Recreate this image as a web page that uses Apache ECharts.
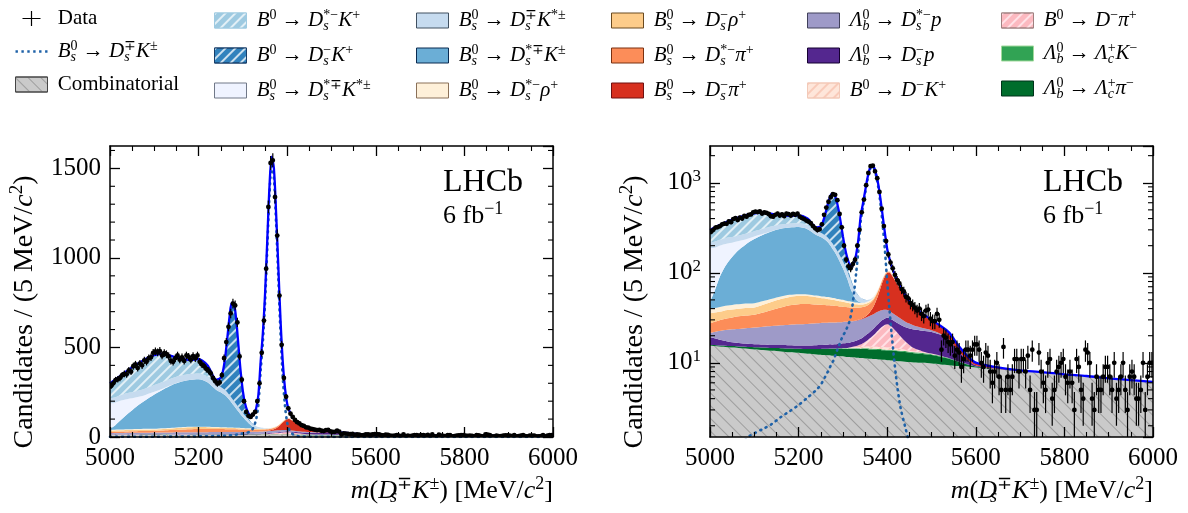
<!DOCTYPE html>
<html><head><meta charset="utf-8">
<script src="https://cdn.jsdelivr.net/npm/echarts@6.0.0/dist/echarts.min.js"></script>
<style>html,body{margin:0;padding:0;background:#fff}#c{width:1188px;height:513px}</style>
</head><body><div id="c"></div>
<script>
const SERIF = '"Liberation Serif", "DejaVu Serif", serif';
const X_MIN = 5000, X_MAX = 6000;
const BIN_LO = 5000, BIN_W = 5;
const yMinorLin = [100,200,300,400,600,700,800,900,1100,1200,1300,1400,1600];
const yMinorLog = [2,3,4,5,6,7,8,9,20,30,40,50,60,70,80,90,200,300,400,500,600,700,800,900,2000];

// fit sampling points (MeV/c^2)
const fitX = [5000,5010,5020,5030,5040,5050,5060,5070,5080,5090,
5100,5120,5140,5160,5180,5200,5220,5240,5250,5255,
5260,5265,5270,5275,5280,5285,5290,5295,5300,5305,
5310,5315,5320,5325,5330,5335,5340,5345,5350,5355,
5360,5365,5370,5375,5380,5385,5390,5395,5400,5405,
5410,5420,5430,5440,5450,5460,5480,5500,5520,5540,
5560,5580,5600,5650,5700,5750,5800,5850,5900,5950,
6000];

const comb = [15.5,15.4,15.2,15.1,14.9,14.8,14.7,14.5,14.4,14.2,
14.1,13.9,13.6,13.4,13.1,12.9,12.6,12.4,12.3,12.2,
12.2,12.1,12.1,12.0,12.0,11.9,11.9,11.8,11.8,11.7,
11.6,11.6,11.5,11.5,11.4,11.4,11.3,11.3,11.2,11.2,
11.1,11.1,11.0,11.0,10.9,10.9,10.8,10.8,10.7,10.7,
10.6,10.5,10.4,10.3,10.2,10.1,10.0,9.8,9.6,9.4,
9.2,9.1,8.9,8.5,8.1,7.8,7.4,7.1,6.7,6.4,
6.1];
const lbLcpi = [0.3,0.35,0.4,0.45,0.5,0.55,0.6,0.65,0.7,0.75,
0.8,0.9,1.0,1.15,1.3,1.4,1.6,1.8,1.9,2.0,
2.05,2.1,2.2,2.25,2.3,2.35,2.4,2.5,2.55,2.6,
2.65,2.7,2.75,2.8,2.85,2.9,2.9,2.95,3.0,3.0,
3.0,3.0,3.0,3.0,3.0,3.0,3.0,3.0,3.0,3.0,
3.0,3.0,2.95,2.9,2.8,2.7,2.55,2.4,2.1,1.7,
1.1,0.55,0.2,0.05,0,0,0,0,0,0,
0];
const lbLcK = [0,0,0,0,0,0,0,0,0,0,
0,0,0,0,0,0,0.02,0.05,0.08,0.1,
0.1,0.12,0.13,0.15,0.16,0.17,0.18,0.19,0.2,0.2,
0.2,0.21,0.22,0.23,0.24,0.25,0.26,0.27,0.28,0.29,
0.3,0.3,0.3,0.3,0.3,0.3,0.3,0.3,0.3,0.3,
0.3,0.3,0.3,0.3,0.3,0.3,0.3,0.28,0.22,0.15,
0.1,0.05,0.02,0,0,0,0,0,0,0,
0];
const b0DK = [0,0,0,0,0,0,0,0,0,0,
0,0,0,0,0,0,0,0,0,0,
0,0,0,0,0,0,0,0,0.1,0.15,
0.2,0.25,0.3,0.35,0.4,0.45,0.5,0.55,0.6,0.65,
0.7,0.72,0.75,0.78,0.8,0.8,0.8,0.8,0.78,0.75,
0.72,0.65,0.55,0.45,0.35,0.28,0.15,0.08,0.03,0,
0,0,0,0,0,0,0,0,0,0,
0];
const b0Dpi = [0,0,0,0,0,0,0,0,0,0,
0,0,0,0,0,0,0,0,0,0,
0,0,0,0,0,0,0,0,0,0,
0,0,0.2,0.3,0.5,0.7,1.0,1.4,2.0,2.6,
3.5,4.4,5.5,6.7,8.0,9.3,10.5,11.5,12.0,11.6,
10.6,8.0,5.5,3.5,2.1,1.2,0.4,0.1,0.03,0,
0,0,0,0,0,0,0,0,0,0,
0];
const lbDsp = [3.4,3.0,2.6,2.2,1.9,1.6,1.4,1.3,1.25,1.2,
1.2,1.2,1.2,1.25,1.3,1.3,1.35,1.4,1.45,1.5,
1.5,1.55,1.6,1.6,1.65,1.7,1.7,1.75,1.8,1.85,
1.9,2.0,2.05,2.1,2.2,2.3,2.5,2.7,2.9,3.1,
3.3,3.5,3.7,3.95,4.2,4.4,4.6,4.7,4.8,4.9,
5.0,5.8,6.8,7.6,8.3,8.8,9.3,9.4,8.6,6.8,
3.2,1.2,0.3,0.05,0,0,0,0,0,0,
0];
const lbDsstp = [2.3,3.3,4.3,5.2,6.0,6.6,7.1,7.5,7.9,8.2,
8.5,9.2,9.8,10.3,10.8,11.2,11.5,11.8,11.9,12.0,
12.0,12.0,12.0,12.0,12.0,12.0,12.0,12.0,12.0,12.0,
12.0,12.0,11.9,11.9,11.8,11.8,11.7,11.6,11.5,11.4,
11.2,11.0,10.7,10.4,10.0,9.3,8.5,7.7,7.0,6.5,
6.0,5.2,4.5,3.8,3.2,2.6,1.6,0.9,0.4,0.15,
0.05,0,0,0,0,0,0,0,0,0,
0];
const bsDspi = [0,0,0,0,0,0,0,0,0,0,
0,0,0,0,0,0,0,0,0,0,
0,0,0,0,0,0,0,0,0,0,
0,0,0,0,0.1,0.2,0.3,0.6,1.0,1.8,
3.0,5.0,8.0,13,20,30,42,53,61,63,
58,45,35,26,19,15,10,6.5,4.5,3.2,
1.8,1.0,0.5,0.2,0.1,0.05,0.03,0.02,0.01,0.01,
0.01];
const bsDsstpi = [6,6.5,7,7.5,8,8.4,8.8,9.1,9.3,9.5,
9.6,11,13,15,17,18,18,17,16.5,16.2,
16,15.7,15.5,15.2,15,14.6,14.3,13.9,13.5,13.1,
12.8,12.4,12,11.6,11.3,10.9,10.6,10.2,9.8,9.4,
9,8.5,8,7.3,6.5,5.7,4.8,4.0,3.2,2.5,
2.0,1.3,0.9,0.6,0.4,0.3,0.2,0.1,0.05,0,
0,0,0,0,0,0,0,0,0,0,
0];
const bsDsrho = [8,7.7,7.5,7.3,7.2,7.1,7,7,7,7,
7,8,9,10,10.5,10.5,10,9,8.5,8.2,
8,7.7,7.4,7.1,6.8,6.5,6.2,6.0,5.7,5.4,
5.1,4.8,4.5,4.2,3.9,3.6,3.3,3.0,2.7,2.4,
2.1,1.8,1.6,1.4,1.2,1.0,0.8,0.65,0.5,0.4,
0.3,0.2,0.1,0.05,0,0,0,0,0,0,
0,0,0,0,0,0,0,0,0,0,
0];
const bsDsstrho = [4,4.3,4.5,4.7,4.8,4.9,5,5,4.9,4.8,
4.7,4.3,3.8,3.3,2.9,2.6,2.5,2.4,2.4,2.4,
2.4,2.4,2.4,2.4,2.4,2.4,2.4,2.4,2.4,2.35,
2.3,2.25,2.2,2.15,2.1,2.05,2.0,1.9,1.85,1.8,
1.7,1.6,1.5,1.4,1.3,1.15,1.05,0.9,0.8,0.7,
0.6,0.4,0.3,0.2,0.15,0.1,0.05,0,0,0,
0,0,0,0,0,0,0,0,0,0,
0];
const bsDsstK = [8.5,21.5,43.5,65.5,86.7,106,125.4,143,159.5,176.3,
192,216.5,238.6,253.6,261,264,247.5,206.2,195,187.4,
178.8,167.4,152.7,137.4,121.8,106.5,91,75.6,62,48.7,
36.3,23.8,14.4,7.9,3.3,1.5,0.7,0.3,0.15,0.1,
0.05,0.03,0.02,0.01,0,0,0,0,0,0,
0,0,0,0,0,0,0,0,0,0,
0,0,0,0,0,0,0,0,0,0,
0];
const bsDsstKst = [140,128,114,98,82,66,52,40,30,22,
15,6,2,0.5,0,0,0,0,0,0,
0,0,0,0,0,0,0,0,0,0,
0,0,0,0,0,0,0,0,0,0,
0,0,0,0,0,0,0,0,0,0,
0,0,0,0,0,0,0,0,0,0,
0,0,0,0,0,0,0,0,0,0,
0];
const bsDsKst = [30,31,32,33,34,34,35,35,36,36,
37,37,36,35,34,33,32,30,29,28.5,
28,27.5,27,26.5,26,25,24,23,22,20.5,
19,17,15,12.5,10,8,6,4.5,3,2,
1.5,1,0.5,0.3,0.1,0,0,0,0,0,
0,0,0,0,0,0,0,0,0,0,
0,0,0,0,0,0,0,0,0,0,
0];
const b0DsK = [0,0,0,0,0,0,0,0,0,0,
0,0,0,0,0.1,0.3,1.0,4,36,86,
175,300,432,523,533,456,328,198,101,45,
17,6,2.5,1.2,0.6,0.3,0.2,0.1,0.05,0.03,
0.02,0.01,0,0,0,0,0,0,0,0,
0,0,0,0,0,0,0,0,0,0,
0,0,0,0,0,0,0,0,0,0,
0];
const b0DsstK = [80,96,104,115,125,139,147,156,163,166,
166,155,122,92,75,76,58,19,10,6,
3.5,2,1,0.5,0.2,0,0,0,0,0,
0,0,0,0,0,0,0,0,0,0,
0,0,0,0,0,0,0,0,0,0,
0,0,0,0,0,0,0,0,0,0,
0,0,0,0,0,0,0,0,0,0,
0];
const bsDsK = [0.8,0.9,1.0,1.05,1.1,1.15,1.2,1.3,1.4,1.55,
1.65,1.85,2.1,2.5,2.9,3.4,4.1,5.0,5.7,6.3,
7.0,7.8,8.8,9.8,11,13,15,17.5,20,22,
25,29,38,60,100,180,367,528,750,1050,
1350,1513,1445,1190,884,574,333,175,80,40,
21,7,3.2,2.0,1.3,1.0,0.6,0.4,0.3,0.25,
0.2,0.15,0.12,0.08,0.05,0.04,0.03,0.02,0.02,0.02,
0.02];

// data: candidates per 5 MeV bin, 5000-6000
const counts = [285,300,318,322,330,345,352,350,372,365,
395,405,385,410,400,428,420,440,445,470,
478,472,480,455,468,462,450,425,420,440,
455,432,445,425,455,448,432,452,440,455,
420,405,395,380,370,355,330,312,298,305,
345,440,530,615,690,745,735,640,450,320,
200,140,118,112,125,140,200,300,470,650,
940,1285,1530,1545,1340,1125,790,515,330,225,
160,130,112,95,83,76,66,62,54,52,
46,44,41,38,40,35,33,
38,39,31,29,29,35,30,14,20,19,
17,16,17,12,14,13,9,11,14,14,
12,14,16,16,14,10,9,13,12,8,
6,8,10,7,5,15,5,7,5,7,
11,11,8,11,11,8,12,5,14,3,
3,13,8,6,5,10,11,4,5,8,
9,10,11,7,6,8,6,3,11,9,
5,4,14,13,10,4,3,7,5,5,
7,9,9,7,5,10,4,5,7,10,
5,3,7,8,7,4,4,5,10,3,
7,10,10];

// ---- styles (kept separate from data) ----
const COMPONENTS = [
 {key:'comb', values: comb, color:'#cacaca', border:'#444', hatch:{color:'rgba(120,120,120,0.55)', dir:1, dash:[1,8]}},
 {key:'lbLcpi', values: lbLcpi, color:'#006d2c', border:'#00331a'},
 {key:'lbLcK', values: lbLcK, color:'#31a354', border:'#a1d99b'},
 {key:'b0DK', values: b0DK, color:'#fee6da', border:'#f2c9b8', hatch:{color:'rgba(248,196,178,0.8)', dir:-1, dash:[1.5,5]}},
 {key:'b0Dpi', values: b0Dpi, color:'#fcb9c0', border:'#a08080', hatch:{color:'rgba(255,232,236,0.85)', dir:-1, dash:[1.5,5]}},
 {key:'lbDsp', values: lbDsp, color:'#54278f', border:'#150030'},
 {key:'lbDsstp', values: lbDsstp, color:'#9e9ac8', border:'#40405a'},
 {key:'bsDspi', values: bsDspi, color:'#d7301f', border:'#701010'},
 {key:'bsDsstpi', values: bsDsstpi, color:'#fc8d59', border:'#7a3010'},
 {key:'bsDsrho', values: bsDsrho, color:'#fdcc8a', border:'#6a4a20'},
 {key:'bsDsstrho', values: bsDsstrho, color:'#fef0d9', border:'#8a7058'},
 {key:'bsDsstK', values: bsDsstK, color:'#6baed6', border:'#0a2a50'},
 {key:'bsDsstKst', values: bsDsstKst, color:'#eff3ff', border:'#707888'},
 {key:'bsDsKst', values: bsDsKst, color:'#c6dbef', border:'#405060'},
 {key:'b0DsK', values: b0DsK, color:'#3182bd', border:'#173e6a', hatch:{color:'rgba(255,255,255,0.75)', dir:-1, dash:[1.5,5]}},
 {key:'b0DsstK', values: b0DsstK, color:'#9ecae1', border:'#9ecae1', hatch:{color:'rgba(255,255,255,0.7)', dir:-1, dash:[1.5,5]}}
];
const SIG_COLOR = '#1f62a8';

function hatchDecal(h) {
  return {symbol:'rect', symbolSize:1, color:h.color, dashArrayX:[1,0], dashArrayY:h.dash, rotation:h.dir*Math.PI/4};
}

const errs = [];
COMPONENTS.forEach(c => { if (c.values.length !== fitX.length) errs.push(c.key + ':' + c.values.length); });
if (bsDsK.length !== fitX.length) errs.push('sig:' + bsDsK.length);
if (counts.length !== 200) errs.push('counts:' + counts.length);

const dataRows = counts.map((n, i) => {
  const x = BIN_LO + BIN_W * (i + 0.5);
  const e = Math.sqrt(n);
  return [x, n, n - e, n + e];
});

function areaSeries(c, xi, yi, stack) {
  const decal = c.hatch ? hatchDecal(c.hatch) : null;
  const s = {
    type:'line', name:c.key, xAxisIndex:xi, yAxisIndex:yi, stack:stack,
    data: fitX.map((x, i) => [c.values[i], x]), encode:{x:1, y:0},
    symbol:'none', showSymbol:false, smooth:0.3, color:c.color,
    lineStyle:{width:0, color:c.color}, itemStyle:{color:c.color},
    areaStyle:{color:c.color, opacity:1, origin:'start'}, z:2, silent:true
  };
  if (decal) { s.itemStyle.decal = decal; s.lineStyle.decal = decal; }
  return s;
}

function dataSeries(xi, yi) {
  return {
    type:'custom', name:'data', xAxisIndex:xi, yAxisIndex:yi, data:dataRows,
    encode:{x:0, y:1}, clip:true, z:6, silent:true, itemStyle:{color:'#000'},
    renderItem(params, api) {
      const x = api.value(0), y = api.value(1), lo = api.value(2), hi = api.value(3);
      const c = api.coord([x, y]), a = api.coord([x, lo]), b = api.coord([x, hi]);
      const l = api.coord([x - BIN_W/2, y]), r = api.coord([x + BIN_W/2, y]);
      return {type:'group', children:[
        {type:'line', shape:{x1:c[0], y1:a[1], x2:c[0], y2:b[1]}, style:{stroke:'#000', lineWidth:1.2}},
        {type:'line', shape:{x1:l[0], y1:c[1], x2:r[0], y2:c[1]}, style:{stroke:'#000', lineWidth:1.2}},
        {type:'circle', shape:{cx:c[0], cy:c[1], r:2.4}, style:{fill:'#000'}}
      ]};
    }
  };
}

function minorTickSeries(values, xi, yi) {
  return {
    type:'custom', xAxisIndex:xi, yAxisIndex:yi, data: values.map(v => [X_MIN, v]),
    encode:{x:0, y:1}, z:12, silent:true,
    renderItem(params, api) {
      const v = api.value(1);
      const pL = api.coord([X_MIN, v]), pR = api.coord([X_MAX, v]);
      return {type:'group', children:[
        {type:'line', shape:{x1:pL[0], y1:pL[1], x2:pL[0]+5, y2:pL[1]}, style:{stroke:'#000', lineWidth:1.1}},
        {type:'line', shape:{x1:pR[0]-5, y1:pR[1], x2:pR[0], y2:pR[1]}, style:{stroke:'#000', lineWidth:1.1}}
      ]};
    }
  };
}

function plotSeries(xi, yi, stack) {
  const out = COMPONENTS.map(c => areaSeries(c, xi, yi, stack));
  out.push({type:'line', name:'fitTotal', xAxisIndex:xi, yAxisIndex:yi, stack:stack,
    data: fitX.map((x, i) => [bsDsK[i], x]), encode:{x:1, y:0}, symbol:'none', showSymbol:false, smooth:0.3,
    lineStyle:{color:'#0000ff', width:2.3}, color:'#0000ff', z:4, silent:true});
  out.push({type:'line', name:'sig', xAxisIndex:xi, yAxisIndex:yi,
    data: fitX.map((x, i) => [bsDsK[i], x]), encode:{x:1, y:0}, symbol:'none', showSymbol:false, smooth:0.3,
    lineStyle:{color:SIG_COLOR, width:2.6, type:[1,5], cap:'round'}, color:SIG_COLOR, z:3, silent:true});
  out.push(dataSeries(xi, yi));
  return out;
}

// ---- text helpers ----
function richSet(size) {
  const small = Math.round(size * 0.68), sl = Math.round(size * 0.62), lh = Math.round(size * 1.2);
  return {
    r: {fontFamily:SERIF, fontSize:size, lineHeight:lh, color:'#000'},
    i: {fontFamily:SERIF, fontSize:size, fontStyle:'italic', lineHeight:lh, color:'#000'},
    sp: {fontFamily:SERIF, fontSize:small, lineHeight:sl, verticalAlign:'top', color:'#000'},
    sb: {fontFamily:SERIF, fontSize:small, fontStyle:'italic', lineHeight:sl, verticalAlign:'bottom', color:'#000'},
    sbz: {fontFamily:SERIF, fontSize:small, fontStyle:'italic', lineHeight:sl, verticalAlign:'bottom', width:0.01, color:'#000'}
  };
}
const BS = '{i|B}{sbz|s}{sp|0}';
const B0 = '{i|B}{sp|0}';
const LB = '{i|Λ}{sbz|b}{sp|0}';
const TO = '{r| → }';
const DS = s => '{i|D}{sbz|s}{sp|' + s + '}';
const LABELS = {
  data: '{r|Data}',
  sig: BS + TO + DS('∓') + '{i|K}{sp|±}',
  comb: '{r|Combinatorial}',
  b0DsstK: B0 + TO + DS('*−') + '{i|K}{sp|+}',
  b0DsK: B0 + TO + DS('−') + '{i|K}{sp|+}',
  bsDsstKst: BS + TO + DS('*∓') + '{i|K}{sp|*±}',
  bsDsKst: BS + TO + DS('∓') + '{i|K}{sp|*±}',
  bsDsstK: BS + TO + DS('*∓') + '{i|K}{sp|±}',
  bsDsstrho: BS + TO + DS('*−') + '{i|ρ}{sp|+}',
  bsDsrho: BS + TO + DS('−') + '{i|ρ}{sp|+}',
  bsDsstpi: BS + TO + DS('*−') + '{i|π}{sp|+}',
  bsDspi: BS + TO + DS('−') + '{i|π}{sp|+}',
  lbDsstp: LB + TO + DS('*−') + '{i|p}',
  lbDsp: LB + TO + DS('−') + '{i|p}',
  b0DK: B0 + TO + '{i|D}{sp|−}{i|K}{sp|+}',
  b0Dpi: B0 + TO + '{i|D}{sp|−}{i|π}{sp|+}',
  lbLcK: LB + TO + '{i|Λ}{sbz|c}{sp|+}{i|K}{sp|−}',
  lbLcpi: LB + TO + '{i|Λ}{sbz|c}{sp|+}{i|π}{sp|−}'
};
const LEGEND_COLS = [
  {left:15, names:['data','sig','comb']},
  {left:214, names:['b0DsstK','b0DsK','bsDsstKst']},
  {left:416, names:['bsDsKst','bsDsstK','bsDsstrho']},
  {left:611, names:['bsDsrho','bsDsstpi','bsDspi']},
  {left:807, names:['lbDsstp','lbDsp','b0DK']},
  {left:1001, names:['b0Dpi','lbLcK','lbLcpi']}
];
const CROSS = 'path://M11.2,0h1.6v9.2h11.2v1.6h-11.2v9.2h-1.6v-9.2h-11.2v-1.6h11.2z';
const DOTS = 'path://M0,0h2.4v2.4h-2.4zM5.9,0h2.4v2.4h-2.4zM11.8,0h2.4v2.4h-2.4zM17.7,0h2.4v2.4h-2.4zM23.6,0h2.4v2.4h-2.4zM29.6,0h2.4v2.4h-2.4z';
function legendItem(n) {
  if (n === 'data') return {name:n, icon:CROSS, itemStyle:{color:'#000', borderWidth:0}};
  if (n === 'sig') return {name:n, icon:DOTS, itemStyle:{color:SIG_COLOR, borderWidth:0}};
  const c = COMPONENTS.find(k => k.key === n);
  return {name:n, icon:'rect', itemStyle:{color:c.color, borderColor:c.border, borderWidth:1}};
}
const LEG_RICH = richSet(21);
const legends = LEGEND_COLS.map(col => ({
  left: col.left, top: 8, orient:'vertical', padding:0, itemGap:10, itemWidth:32, itemHeight:15,
  selectedMode:false, data: col.names.map(legendItem),
  formatter: n => '{r| }' + LABELS[n],
  textStyle: {fontFamily:SERIF, fontSize:21, color:'#000', rich: LEG_RICH}
}));

// ---- axes ----
const AX_LINE = {show:true, onZero:false, lineStyle:{color:'#000', width:1.5}};
const TICK = {show:true, inside:true, length:10, lineStyle:{color:'#000', width:1.3}};
const plain = v => String(Math.round(v));
function xAx(gridIndex, position, labels) {
  return {type:'value', gridIndex, position, min:X_MIN, max:X_MAX, interval:200, z:10,
    axisLine:AX_LINE, axisTick:TICK,
    minorTick:{show:true, splitNumber:4, length:5, lineStyle:{color:'#000', width:1.1}},
    splitLine:{show:false}, minorSplitLine:{show:false},
    axisLabel:{show:labels, margin:9, fontFamily:SERIF, fontSize:25, color:'#000', formatter:plain}};
}
function yLin(position, labels) {
  return {type:'value', gridIndex:0, position, min:0, max:1625, interval:500, z:10,
    axisLine:AX_LINE, axisTick:TICK, splitLine:{show:false},
    axisLabel:{show:labels, showMaxLabel:false, margin:9, fontFamily:SERIF, fontSize:25, color:'#000', formatter:plain}};
}
const LOG_RICH = {
  b:{fontFamily:SERIF, fontSize:25, lineHeight:30, color:'#000'},
  s:{fontFamily:SERIF, fontSize:17, lineHeight:16, verticalAlign:'top', color:'#000'}
};
function yLog(position, labels) {
  return {type:'log', logBase:10, gridIndex:1, position, min:1.5, max:2560, z:10,
    axisLine:AX_LINE, axisTick:TICK, splitLine:{show:false}, minorTick:{show:false},
    axisLabel:{show:labels, showMinLabel:false, showMaxLabel:false, margin:9, color:'#000',
      formatter: v => '{b|10}{s|' + Math.round(Math.log10(v)) + '}', rich:LOG_RICH}};
}

// ---- graphic texts ----
function gtext(x, y, text, size, align, vAlign, rotation) {
  return {type:'text', x, y, rotation: rotation || 0, silent:true, z:20,
    style:{text, rich:richSet(size), fontFamily:SERIF, fontSize:size, fill:'#000',
      align, verticalAlign:vAlign, textAlign:align, textVerticalAlign:vAlign}};
}
const XTITLE = '{i|m}{r|(}{i|D}{sbz|s}{sp|∓}{i|K}{sp|±}{r|) [MeV/}{i|c}{sp|2}{r|]}';
const YTITLE = '{r|Candidates / (5 MeV/}{i|c}{sp|2}{r|)}';
const LUMI = '{r|6 fb}{sp|−1}';
const graphics = [
  gtext(443, 183, '{r|LHCb}', 32, 'left', 'middle'),
  gtext(1043, 183, '{r|LHCb}', 32, 'left', 'middle'),
  gtext(443, 216, LUMI, 26, 'left', 'middle'),
  gtext(1043, 216, LUMI, 26, 'left', 'middle'),
  gtext(553, 491, XTITLE, 26, 'right', 'middle'),
  gtext(1153, 491, XTITLE, 26, 'right', 'middle'),
  gtext(25, 312, YTITLE, 28, 'center', 'middle', Math.PI/2),
  gtext(635, 312, YTITLE, 28, 'center', 'middle', Math.PI/2)
];
if (errs.length) graphics.push({type:'text', x:500, y:300, style:{text:'LEN ERR ' + errs.join(' '), fill:'red', fontSize:20}});

const option = {
  animation:false,
  backgroundColor:'#fff',
  grid:[
    {left:110, top:146, width:443, height:291, outerBoundsMode:'none', containLabel:false},
    {left:710, top:146, width:443, height:291, outerBoundsMode:'none', containLabel:false}
  ],
  legend: legends,
  xAxis:[xAx(0,'bottom',true), xAx(0,'top',false), xAx(1,'bottom',true), xAx(1,'top',false)],
  yAxis:[yLin('left',true), yLin('right',false), yLog('left',true), yLog('right',false)],
  series: [].concat(
    plotSeries(0, 0, 'L'),
    plotSeries(2, 2, 'R'),
    [minorTickSeries(yMinorLin, 0, 0), minorTickSeries(yMinorLog, 2, 2)]
  ),
  graphic: graphics
};
const chart = echarts.init(document.getElementById('c'), null, {renderer:'canvas'});
chart.setOption(option);
</script></body></html>
